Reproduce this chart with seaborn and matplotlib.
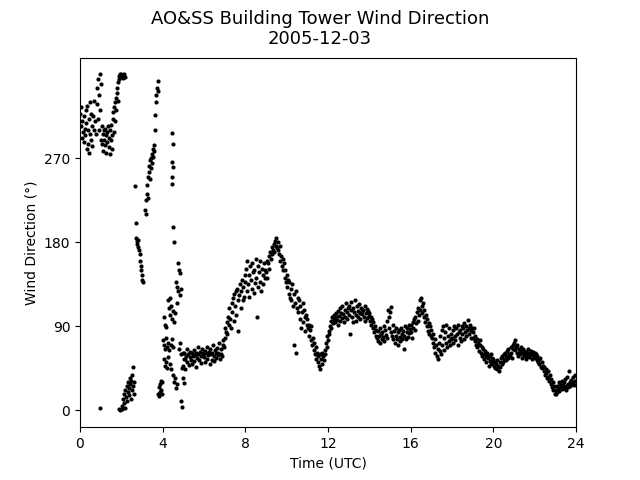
import numpy as np
import pandas as pd
import matplotlib
matplotlib.use("Agg")
import matplotlib.pyplot as plt
import seaborn as sns

# ---- early, multi-branch part (0-5 h): explicit (time, direction) readings ----
early_t = [
    0.02, 0.05, 0.07, 0.10, 0.12, 0.15, 0.17, 0.20, 0.22, 0.25, 0.28, 0.30, 0.33, 0.35, 0.38, 0.40,
    0.42, 0.45, 0.48, 0.50, 0.53, 0.55, 0.58, 0.60, 0.63, 0.66, 0.70, 0.73, 0.76, 0.80, 0.82, 0.85,
    0.87, 0.90, 0.92, 0.95, 0.97, 0.95, 1.00, 1.02,
    1.05, 1.08, 1.10, 1.13, 1.15, 1.18, 1.20, 1.23, 1.25, 1.28, 1.30, 1.33, 1.35, 1.38, 1.40, 1.43,
    1.45, 1.48, 1.50, 1.53, 1.55, 1.58, 1.60, 1.63, 1.65, 1.68, 1.70, 1.73, 1.75, 1.78, 1.80, 1.83,
    1.85, 1.88, 1.90, 1.93, 1.95, 2.00, 2.03, 2.06, 2.10, 2.15, 2.20,
    1.88, 1.95, 2.02, 2.05, 2.08, 2.12, 2.15, 2.18, 2.20, 2.22, 2.25, 2.28, 2.30, 2.33, 2.35, 2.38,
    2.40, 2.42, 2.45, 2.48, 2.50, 2.52, 2.55, 2.58, 2.60, 2.62,
    2.66, 2.70, 2.72, 2.75, 2.78, 2.80, 2.83, 2.85, 2.88, 2.90, 2.93, 2.95, 2.98, 3.00, 3.05,
    3.15, 3.18, 3.20, 3.22, 3.25, 3.28, 3.30, 3.32, 3.35, 3.38, 3.40, 3.42, 3.45, 3.48, 3.50, 3.52,
    3.55, 3.58, 3.60, 3.62, 3.65, 3.68, 3.70, 3.72, 3.75, 3.78,
    3.78, 3.80, 3.82, 3.85, 3.88, 3.90, 3.92, 3.95, 3.98,
    4.43, 4.52, 4.47, 4.52, 4.47, 4.47, 4.52, 4.55, 4.72, 4.78, 4.82, 4.65, 4.70, 4.75, 4.85, 4.90,
    4.05, 4.10, 4.15, 4.25, 4.30, 4.35, 4.40, 4.45, 4.50, 4.55, 4.62, 4.68, 4.35,
    4.00, 4.05, 4.10, 4.15, 4.20, 4.25, 4.30, 4.40, 4.45, 4.50, 4.05, 4.10, 4.15, 4.20, 4.28, 4.35,
    4.42, 4.50, 4.55, 4.60, 4.65, 4.70, 4.88, 4.92, 4.85, 4.90, 4.95, 5.00, 5.02, 5.05, 4.80, 4.97,
]
early_dir = [
    318, 305, 325, 292, 310, 298, 288, 315, 302, 295, 322, 308, 280, 326, 300, 285,
    312, 276, 330, 296, 318, 290, 305, 283, 315, 300, 332, 310, 296, 345, 328, 355,
    312, 300, 338, 322, 360, 3, 290, 350,
    305, 285, 296, 278, 300, 290, 302, 284, 295, 276, 298, 288, 305, 292, 282, 300,
    275, 290, 306, 295, 280, 312, 320, 298, 325, 330, 310, 335, 322, 340, 345, 332,
    352, 358, 355, 360, 357, 360, 358, 356, 359, 360, 357,
    2, 0, 5, 1, 12, 8, 18, 3, 22, 14, 26, 10, 20, 30, 16, 24,
    35, 28, 12, 32, 22, 38, 46, 26, 18, 30,
    240, 201, 185, 182, 178, 183, 175, 172, 168, 160, 155, 150, 145, 140, 138,
    215, 225, 210, 232, 242, 228, 250, 255, 262, 248, 268, 260, 270, 275, 265, 280,
    272, 284, 278, 300, 316, 330, 338, 345, 353, 342,
    18, 25, 15, 28, 20, 32, 22, 30, 18,
    297, 285, 266, 261, 250, 243, 197, 180, 158, 150, 147, 138, 132, 128, 124, 130,
    100, 92, 89, 118, 110, 102, 112, 98, 106, 95, 104, 115, 120,
    75, 70, 66, 78, 68, 72, 65, 70, 76, 68, 55, 48, 52, 45, 57, 50,
    44, 38, 30, 35, 24, 28, 10, 4, 72, 60, 45, 35, 55, 29, 66, 62,
]

# ---- 5-24 h: one reading every 2 minutes, per hour ----
dir_05 = [48, 62, 55, 44, 58, 66, 52, 60, 49, 57, 63, 54, 50, 61, 58, 65, 53, 59, 47, 62, 56, 68, 60, 54, 63, 58, 51, 66, 59, 62]
dir_06 = [57, 64, 52, 61, 68, 55, 59, 63, 50, 66, 60, 54, 62, 70, 58, 53, 65, 61, 56, 67, 59, 62, 72, 55, 60, 66, 58, 70, 75, 68]
dir_07 = [78, 88, 84, 95, 82, 100, 92, 110, 98, 88, 115, 105, 120, 96, 125, 112, 128, 102, 130, 118, 85, 124, 135, 110, 128, 140, 118, 132, 122, 145]
dir_08 = [138, 152, 128, 160, 135, 145, 122, 155, 140, 130, 158, 148, 126, 150, 136, 162, 142, 100, 155, 132, 148, 138, 160, 128, 152, 145, 135, 158, 142, 150]
dir_09 = [148, 160, 142, 158, 165, 152, 170, 162, 168, 175, 172, 178, 170, 182, 176, 185, 174, 180, 172, 168, 176, 160, 165, 155, 162, 150, 158, 142, 150, 138]
dir_10 = [145, 132, 140, 125, 138, 120, 130, 118, 135, 112, 125, 70, 115, 128, 62, 110, 120, 105, 118, 98, 112, 88, 105, 115, 95, 108, 100, 85, 102, 92]
dir_11 = [98, 88, 92, 80, 86, 75, 90, 70, 78, 65, 72, 60, 68, 55, 62, 52, 58, 48, 60, 44, 55, 62, 50, 58, 54, 65, 60, 72, 68, 80]
dir_12 = [75, 85, 82, 90, 88, 96, 100, 94, 102, 98, 95, 104, 100, 97, 106, 92, 101, 110, 96, 104, 99, 112, 103, 95, 108, 100, 115, 98, 105, 110]
dir_13 = [102, 112, 82, 108, 116, 100, 95, 110, 105, 118, 102, 96, 112, 107, 100, 114, 104, 98, 110, 103, 106, 108, 100, 112, 96, 104, 109, 99, 106, 101]
dir_14 = [104, 96, 100, 92, 98, 88, 95, 84, 90, 80, 86, 78, 74, 85, 80, 72, 88, 82, 76, 84, 79, 90, 74, 86, 81, 96, 78, 108, 88, 100]
dir_15 = [105, 84, 111, 80, 92, 76, 85, 72, 88, 80, 76, 84, 70, 86, 79, 74, 88, 82, 77, 85, 66, 80, 90, 76, 84, 88, 79, 92, 83, 87]
dir_16 = [84, 92, 78, 95, 88, 98, 86, 100, 94, 105, 96, 110, 102, 118, 108, 120, 112, 104, 115, 100, 108, 95, 102, 90, 98, 85, 94, 82, 90, 80]
dir_17 = [86, 78, 82, 72, 68, 76, 62, 70, 58, 66, 55, 72, 64, 80, 60, 86, 70, 90, 65, 78, 84, 72, 92, 68, 80, 74, 88, 70, 82, 76]
dir_18 = [78, 86, 72, 90, 80, 75, 88, 82, 70, 92, 84, 78, 86, 74, 90, 82, 88, 76, 94, 84, 80, 90, 86, 97, 88, 82, 92, 85, 78, 88]
dir_19 = [84, 78, 88, 74, 80, 70, 76, 68, 72, 64, 70, 75, 62, 68, 58, 66, 60, 55, 64, 58, 52, 62, 56, 48, 58, 53, 60, 50, 56, 52]
dir_20 = [55, 48, 52, 45, 50, 44, 54, 48, 42, 52, 46, 56, 50, 58, 52, 60, 55, 62, 54, 58, 64, 56, 66, 60, 58, 68, 62, 56, 66, 70]
dir_21 = [72, 65, 75, 68, 62, 70, 58, 66, 64, 60, 68, 56, 62, 66, 58, 64, 60, 55, 63, 58, 61, 66, 57, 62, 59, 64, 55, 60, 63, 57]
dir_22 = [62, 56, 60, 54, 58, 52, 55, 50, 56, 47, 52, 45, 48, 42, 46, 38, 44, 40, 35, 42, 36, 32, 38, 28, 34, 25, 30, 22, 26, 18]
dir_23 = [22, 18, 26, 20, 24, 30, 21, 28, 25, 32, 23, 27, 30, 24, 34, 26, 22, 36, 28, 25, 42, 30, 26, 33, 28, 36, 30, 27, 38, 32]

x_ticks = [0, 4, 8, 12, 16, 20, 24]
y_ticks = [0, 90, 180, 270]
title = "AO&SS Building Tower Wind Direction\n2005-12-03"
x_label = "Time (UTC)"
y_label = "Wind Direction (°)"

hourly = [dir_05, dir_06, dir_07, dir_08, dir_09, dir_10, dir_11, dir_12, dir_13, dir_14,
          dir_15, dir_16, dir_17, dir_18, dir_19, dir_20, dir_21, dir_22, dir_23]
late_t, late_dir = [], []
for i, vals in enumerate(hourly):
    hour = 5 + i
    for j, v in enumerate(vals):
        late_t.append(hour + j / len(vals))
        late_dir.append(v)

df = pd.DataFrame({"time": list(early_t) + late_t, "dir": list(early_dir) + late_dir})

fig, ax = plt.subplots(figsize=(6.4, 4.8), dpi=100)
sns.scatterplot(data=df, x="time", y="dir", ax=ax, color="black", s=9, linewidth=0)
ax.set_xlim(0, 24)
ax.set_ylim(-18, 378)
ax.set_xticks(x_ticks)
ax.set_yticks(y_ticks)
ax.set_xlabel(x_label)
ax.set_ylabel(y_label)
fig.suptitle(title, fontsize=13)
fig.savefig("out.png", dpi=100)
